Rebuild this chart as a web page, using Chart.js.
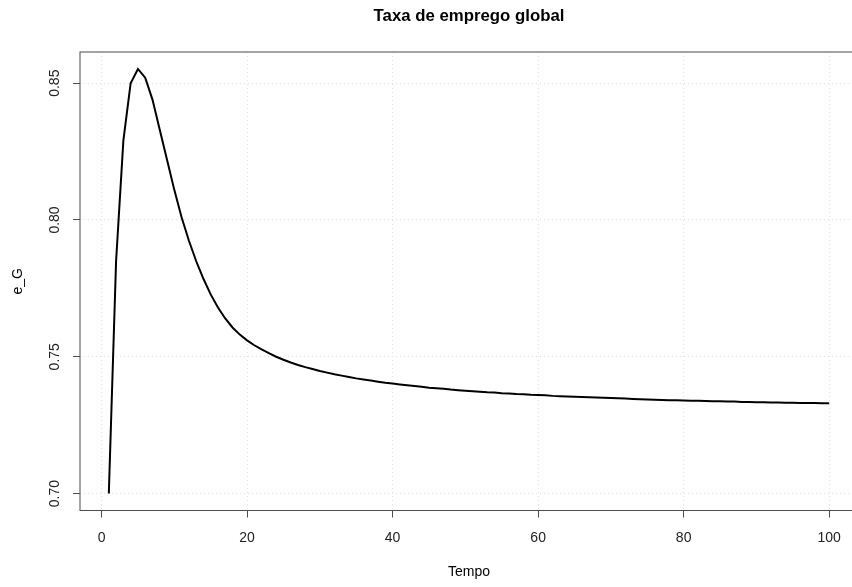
<!DOCTYPE html>
<html>
<head>
<meta charset="utf-8">
<script src="https://cdn.jsdelivr.net/npm/chart.js@4.4.1/dist/chart.umd.min.js"></script>
<style>
  html, body { margin: 0; padding: 0; background: #fff; overflow: hidden; }
  #wrap { width: 870px; height: 587px; }
</style>
</head>
<body>
<div id="wrap"><canvas id="chart-emprego" width="870" height="587"></canvas></div>
<script>
const tempo = [
  1, 2, 3, 4, 5, 6, 7, 8, 9, 10,
  11, 12, 13, 14, 15, 16, 17, 18, 19, 20,
  21, 22, 23, 24, 25, 26, 27, 28, 29, 30,
  31, 32, 33, 34, 35, 36, 37, 38, 39, 40,
  41, 42, 43, 44, 45, 46, 47, 48, 49, 50,
  51, 52, 53, 54, 55, 56, 57, 58, 59, 60,
  61, 62, 63, 64, 65, 66, 67, 68, 69, 70,
  71, 72, 73, 74, 75, 76, 77, 78, 79, 80,
  81, 82, 83, 84, 85, 86, 87, 88, 89, 90,
  91, 92, 93, 94, 95, 96, 97, 98, 99, 100,
];

const eG = [
  0.7000, 0.7850, 0.8290, 0.8500, 0.8552, 0.8520, 0.8440, 0.8330, 0.8220, 0.8110,
  0.8010, 0.7925, 0.7850, 0.7785, 0.7728, 0.7680, 0.7640, 0.7607, 0.7581, 0.7560,
  0.7542, 0.7527, 0.7513, 0.7500, 0.7489, 0.7479, 0.7470, 0.7462, 0.7455, 0.7448,
  0.7442, 0.7436, 0.7431, 0.7426, 0.7421, 0.7417, 0.7413, 0.7409, 0.7405, 0.7402,
  0.7399, 0.7396, 0.7393, 0.7390, 0.7387, 0.7385, 0.7383, 0.7380, 0.7378, 0.7376,
  0.7374, 0.7372, 0.7370, 0.7369, 0.7367, 0.7366, 0.7364, 0.7363, 0.7361, 0.7360,
  0.7359, 0.7357, 0.7356, 0.7355, 0.7354, 0.7353, 0.7352, 0.7351, 0.7350, 0.7349,
  0.7348, 0.7347, 0.7346, 0.7345, 0.7344, 0.7343, 0.7342, 0.7341, 0.7341, 0.7340,
  0.7339, 0.7339, 0.7338, 0.7337, 0.7337, 0.7336, 0.7336, 0.7335, 0.7335, 0.7334,
  0.7334, 0.7333, 0.7333, 0.7332, 0.7332, 0.7331, 0.7331, 0.7331, 0.7330, 0.7330,
];

const xTicks = [0, 20, 40, 60, 80, 100];
const yTicks = [0.70, 0.75, 0.80, 0.85];

const titulo = "Taxa de emprego global";
const xTitulo = "Tempo";
const yTitulo = "e_G";

const FONT = "'Liberation Sans', Arial, Helvetica, sans-serif";
const AXIS = "#4d4d4d";
const GRID = "#e2e2e2";

// R-like frame + main title
const frameTitle = {
  id: "frameTitle",
  afterDraw(chart) {
    const { ctx, chartArea: a } = chart;
    ctx.save();
    ctx.strokeStyle = AXIS;
    ctx.lineWidth = 1;
    ctx.strokeRect(a.left, a.top, a.right - a.left, a.bottom - a.top);
    ctx.fillStyle = "#000";
    ctx.font = `bold 16.8px ${FONT}`;
    ctx.textAlign = "center";
    ctx.textBaseline = "alphabetic";
    ctx.fillText(titulo, (a.left + a.right) / 2, 21);
    ctx.restore();
  },
};

let empregoChart = null;

function renderEmpregoChart() {
  const ctx = document.getElementById("chart-emprego");
  if (empregoChart) empregoChart.destroy();
  empregoChart = new Chart(ctx, {
    type: "line",
    data: {
      datasets: [{
        label: yTitulo,
        data: tempo.map((t, i) => ({ x: t, y: eG[i] })),
        borderColor: "#000",
        borderWidth: 2,
        pointRadius: 0,
        tension: 0,
        fill: false,
      }],
    },
    options: {
      responsive: false,
      animation: false,
      layout: { padding: { top: 52, right: 12, left: 0, bottom: 0 } },
      plugins: { legend: { display: false }, tooltip: { enabled: false } },
      scales: {
        x: {
          type: "linear",
          min: -2.96,
          max: 103.96,
          afterBuildTicks: (s) => { s.ticks = xTicks.map((v) => ({ value: v })); },
          afterFit: (s) => { s.height = 76.5; },
          grid: {
            color: GRID, lineWidth: 1, tickLength: 7, tickColor: AXIS, tickWidth: 1, tickBorderDash: [],
          },
          border: { display: false, dash: [1, 3] },
          ticks: { color: "#222", font: { family: FONT, size: 14 }, padding: 12, maxRotation: 0 },
          title: {
            display: true, text: xTitulo, color: "#000",
            font: { family: FONT, size: 14 }, padding: { top: 0, bottom: 6 },
          },
        },
        y: {
          type: "linear",
          min: 0.6938,
          max: 0.8614,
          afterBuildTicks: (s) => { s.ticks = yTicks.map((v) => ({ value: v })); },
          afterFit: (s) => { s.width = 80; },
          grid: {
            color: GRID, lineWidth: 1, tickLength: 7, tickColor: AXIS, tickWidth: 1, tickBorderDash: [],
          },
          border: { display: false, dash: [1, 3] },
          ticks: {
            color: "#222", font: { family: FONT, size: 14 }, padding: 4,
            minRotation: 90, maxRotation: 90, crossAlign: "center",
            callback: (v) => Number(v).toFixed(2),
          },
          title: {
            display: true, text: yTitulo, color: "#000",
            font: { family: FONT, size: 14 }, padding: { top: 10, bottom: 0 },
          },
        },
      },
    },
    plugins: [frameTitle],
  });
}

renderEmpregoChart();
</script>
</body>
</html>
